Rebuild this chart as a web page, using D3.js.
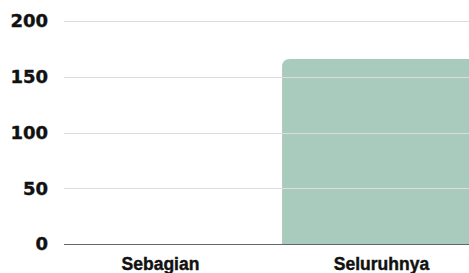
<!DOCTYPE html>
<html lang="id">
<head>
  <meta charset="UTF-8">
  <title>Sebagian vs Seluruhnya</title>
  <script src="https://d3js.org/d3.v7.min.js"></script>
  <style>
    body {
      margin: 0;
      padding: 0;
      background: #fff;
    }
    svg {
      display: block;
    }
    .tick-label {
      font-family: "DejaVu Sans", sans-serif;
      font-weight: bold;
      font-size: 18px;
      fill: #111;
      stroke: #111;
      stroke-width: 0.4px;
    }
    .cat-label {
      font-family: "Liberation Sans", Arial, sans-serif;
      font-weight: bold;
      font-size: 17.5px;
      fill: #111;
      stroke: #111;
      stroke-width: 0.4px;
    }
  </style>
</head>
<body>
  <svg id="chart"></svg>
  <script>
const categories = ["Sebagian", "Seluruhnya"];
const values = [0, 166];
const yTicks = [0, 50, 100, 150, 200];

const width = 469;
const height = 273;
const gridLeft = 64; // gridlines start here

const svg = d3.select("#chart")
  .attr("width", width)
  .attr("height", height);

const x = d3.scaleBand()
  .domain(categories)
  .range([50, 492])
  .paddingInner(0.1)
  .paddingOuter(0.05);

const y = d3.scaleLinear()
  .domain([0, 200])
  .range([244, 21]);

// gridlines
svg.append("g")
  .selectAll("line")
  .data(yTicks)
  .join("line")
  .attr("x1", gridLeft)
  .attr("x2", width)
  .attr("y1", d => Math.round(y(d)) + 0.5)
  .attr("y2", d => Math.round(y(d)) + 0.5)
  .attr("stroke", d => d === 0 ? "#666" : "#ddd")
  .attr("stroke-width", 1);

// tick labels
svg.append("g")
  .selectAll("text")
  .data(yTicks)
  .join("text")
  .attr("class", "tick-label")
  .attr("x", 48)
  .attr("y", d => y(d))
  .attr("dy", "0.36em")
  .attr("text-anchor", "end")
  .text(d => d);

// bars with rounded top corners
function barPath(x0, w, yTop, yBase, r) {
  const h = yBase - yTop;
  if (h <= 0) return "";
  r = Math.min(r, h, w / 2);
  return `M${x0},${yBase}` +
    `L${x0},${yTop + r}` +
    `Q${x0},${yTop} ${x0 + r},${yTop}` +
    `L${x0 + w - r},${yTop}` +
    `Q${x0 + w},${yTop} ${x0 + w},${yTop + r}` +
    `L${x0 + w},${yBase}Z`;
}

const data = categories.map((c, i) => ({ cat: c, value: values[i] }));

svg.insert("g", "g")
  .selectAll("path")
  .data(data)
  .join("path")
  .attr("d", d => barPath(x(d.cat), x.bandwidth(), y(d.value), y(0), 8))
  .attr("fill", "#a9cbbe");

// category labels
svg.append("g")
  .selectAll("text")
  .data(categories)
  .join("text")
  .attr("class", "cat-label")
  .attr("x", d => x(d) + x.bandwidth() / 2)
  .attr("y", 270)
  .attr("text-anchor", "middle")
  .text(d => d);
  </script>
</body>
</html>
